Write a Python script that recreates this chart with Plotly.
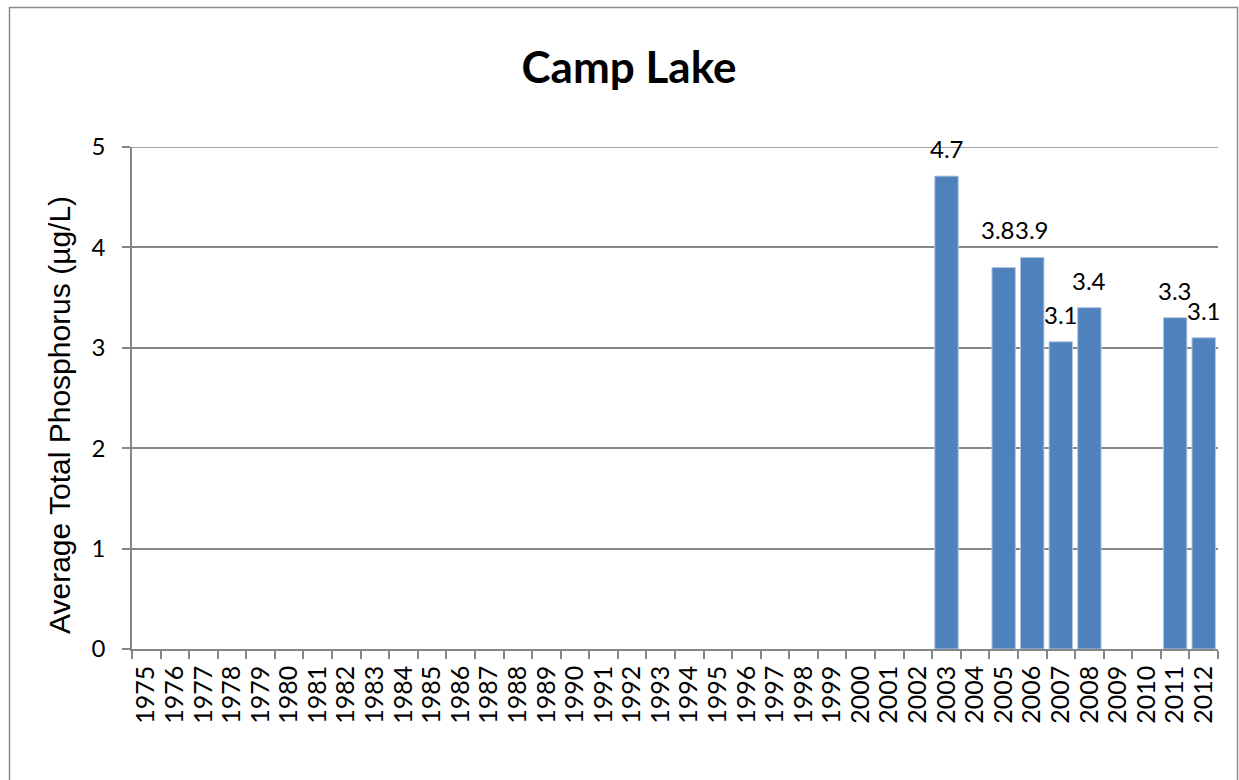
import plotly.graph_objects as go

years = [str(y) for y in range(1975, 2013)]
measured_years = ["2003", "2005", "2006", "2007", "2008", "2011", "2012"]
measured_values = [4.71, 3.80, 3.90, 3.06, 3.40, 3.30, 3.10]
y_ticks = [0, 1, 2, 3, 4, 5]

title_text = "Camp Lake"
y_title = "Average Total Phosphorus (µg/L)"

W, H = 1239, 780
L, R, T, B = 132, 21, 147, 131
pw, ph = W - L - R, H - T - B

def px_x(px):
    return (px - L) / pw

def px_y(py):
    return (H - B - py) / ph

label_font = dict(family="Lato, Calibri, sans-serif", size=24, color="#000000")

fig = go.Figure()
fig.add_trace(go.Bar(
    x=measured_years,
    y=measured_values,
    marker=dict(color="#4F81BD", line=dict(color="#B4C8E2", width=1)),
    hoverinfo="x+y",
))

for i, (xv, yv) in enumerate(zip(measured_years, measured_values)):
    xs, ys = 0, 11
    # Excel nudged this label up/left so it sits beside its neighbour
    if i + 1 < len(measured_years) and int(measured_years[i + 1]) - int(xv) == 1 \
            and measured_values[i + 1] > yv and measured_values[i + 1] - yv < 0.2:
        xs, ys = -6, 11 + (measured_values[i + 1] - yv) * ph / 5
    fig.add_annotation(
        x=years.index(xv), y=yv, text=f"{yv:.1f}", showarrow=False,
        yanchor="bottom", yshift=ys, xshift=xs, font=label_font,
    )

fig.add_annotation(
    xref="paper", yref="paper", x=px_x(59), y=px_y(415),
    text=y_title, textangle=-90, showarrow=False,
    xanchor="center", yanchor="middle",
    font=dict(family="Liberation Sans, Arial, sans-serif", size=30, color="#000000"),
)

fig.add_shape(
    type="rect", xref="paper", yref="paper",
    x0=px_x(9.5), x1=px_x(1237.5), y0=px_y(800), y1=px_y(7.5),
    line=dict(color="#8C8C8C", width=1.5), fillcolor="rgba(0,0,0,0)",
    layer="below",
)
fig.add_shape(
    type="line", xref="paper", yref="y", x0=0, x1=1,
    y0=max(y_ticks), y1=max(y_ticks),
    line=dict(color="#868686", width=1.5), layer="below",
)

fig.update_layout(
    width=W, height=H,
    margin=dict(l=L, r=R, t=T, b=B, autoexpand=False),
    paper_bgcolor="white", plot_bgcolor="white",
    showlegend=False,
    bargap=0.18,
    title=dict(
        text=f"<b>{title_text}</b>", x=629 / W, xanchor="center",
        y=1 - 68 / H, yanchor="middle",
        font=dict(family="Lato, Calibri, sans-serif", size=44, color="#000000"),
    ),
    xaxis=dict(
        type="category", categoryorder="array", categoryarray=years,
        range=[-0.5, len(years) - 0.5],
        tickmode="array", tickvals=years, ticktext=years,
        tickangle=-90, tickson="boundaries",
        ticks="outside", ticklen=8, tickcolor="#868686", tickwidth=1.5,
        ticklabelstandoff=5,
        showline=True, linecolor="#868686", linewidth=1.5,
        showgrid=False, zeroline=False,
        tickfont=dict(family="Lato, Calibri, sans-serif", size=25, color="#000000"),
    ),
    yaxis=dict(
        range=[0, 5], tickmode="array", tickvals=y_ticks,
        ticks="outside", ticklen=8, tickcolor="#868686", tickwidth=1.5,
        ticklabelstandoff=12,
        showline=True, linecolor="#868686", linewidth=1.5,
        showgrid=True, gridcolor="#868686", gridwidth=1.5,
        zeroline=False,
        tickfont=dict(family="Lato, Calibri, sans-serif", size=24, color="#000000"),
    ),
)

fig.write_html("out.html", config={"displayModeBar": False},
               post_script="document.body.style.margin='0';")
